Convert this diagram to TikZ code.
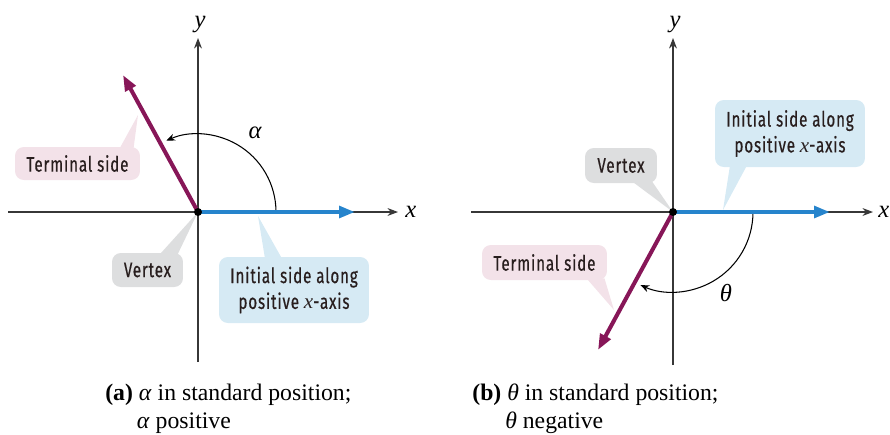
\documentclass[tikz,border=0pt]{standalone}
\usepackage{fontspec}
\setmainfont{Liberation Serif}
\newfontfamily\calloutfont[FakeStretch=0.72,LetterSpace=4.0,FakeBold=0.5]{Fira Sans}
\usetikzlibrary{arrows.meta,positioning,calc}
\definecolor{termpurple}{RGB}{135,22,88}
\definecolor{initblue}{RGB}{38,132,204}
\definecolor{termpink}{RGB}{243,226,233}
\definecolor{vertexgray}{RGB}{221,222,223}
\definecolor{initcyan}{RGB}{214,234,244}
\definecolor{axisgray}{RGB}{55,55,55}
\definecolor{calltext}{RGB}{40,30,30}
\newcommand{\vx}{{\rmfamily\itshape x}}

\begin{document}
\begin{tikzpicture}[
    x=0.02cm, y=-0.02cm,
    axis/.style={draw=axisgray, line width=0.6pt,
                 -{Stealth[length=6pt,width=4.5pt]}},
    side/.style={line width=2.3pt, -{Triangle[length=9pt,width=6.5pt]}},
    angarc/.style={line width=0.6pt, -{Stealth[length=5pt,width=4pt]}},
    callbox/.style={rectangle, rounded corners=5pt, fill=#1, inner sep=0pt,
                    align=center, text=calltext,
                    font=\calloutfont\fontsize{12}{14.7}\selectfont},
    axlabel/.style={inner sep=0pt, font=\fontsize{14}{16}\selectfont\itshape},
    caption/.style={anchor=north west, align=left, inner sep=0pt,
                    font=\fontsize{13.5}{15.6}\selectfont}
]
\useasboundingbox (0,0) rectangle (890,434);

% (a) alpha positive
\coordinate (O1) at (198,212);
\coordinate (xa1) at (8,212);
\coordinate (xb1) at (398,212);
\coordinate (ya1) at (198,362);
\coordinate (yb1) at (198,38);
\coordinate (term1) at (123,75);
\coordinate (init1) at (355,212);
\coordinate (arc1) at (276,212);

\node[callbox=termpink, minimum width=2.5cm, minimum height=0.66cm]
      (tbox1) at (77.5,163.5) {Terminal side};
\node[callbox=vertexgray, minimum width=1.42cm, minimum height=0.68cm]
      (vbox1) at (147.5,270) {Vertex};
\node[callbox=initcyan, minimum width=3cm, minimum height=1.32cm]
      (ibox1) at (294,290) {Initial side along\\positive \vx-axis};

\fill[termpink] ($(tbox1.north)+(42,2)$) -- (138,115) -- ($(tbox1.north)+(56,2)$) -- cycle;
\fill[vertexgray] ($(vbox1.north)+(12,2)$) -- (O1) -- ($(vbox1.north)+(30,2)$) -- cycle;
\fill[initcyan] ($(ibox1.north)+(-29,2)$) -- (258,216) -- ($(ibox1.north)+(-12,2)$) -- cycle;

\draw[axis] (xa1) -- (xb1);
\draw[axis] (ya1) -- (yb1);
\node[axlabel, anchor=west] (xlab1) at (405,212) {x};
\node[axlabel, anchor=south] (ylab1) at (200,33) {y};
\draw[angarc] (arc1) arc[start angle=0, end angle=-114, radius=78];
\node[axlabel] (alpha) at (255,133) {α};
\draw[side, initblue] (O1) -- (init1);
\draw[side, termpurple] (O1) -- (term1);
\fill (O1) circle[radius=4];

\node[caption] (cap1) at (105,384)
      {\textbf{(a)} \textit{α} in standard position;\\
       \hphantom{\textbf{(a)}}\,\textit{α} positive};

% (b) theta negative
\coordinate (O2) at (673,212);
\coordinate (xa2) at (471,212);
\coordinate (xb2) at (873,212);
\coordinate (ya2) at (673,365);
\coordinate (yb2) at (673,38);
\coordinate (term2) at (598,350);
\coordinate (init2) at (830,212);
\coordinate (arc2) at (753,212);

\node[callbox=vertexgray, minimum width=1.44cm, minimum height=0.7cm]
      (vbox2) at (621,165.5) {Vertex};
\node[callbox=initcyan, minimum width=3cm, minimum height=1.34cm]
      (ibox2) at (790,133.5) {Initial side along\\positive \vx-axis};
\node[callbox=termpink, minimum width=2.5cm, minimum height=0.7cm]
      (tbox2) at (544.5,262.5) {Terminal side};

\fill[vertexgray] ($(vbox2.south)+(11,-2)$) -- (O2) -- ($(vbox2.south)+(31,-2)$) -- cycle;
\fill[initcyan] ($(ibox2.south)+(-60,-2)$) -- (723,210) -- ($(ibox2.south)+(-43,-2)$) -- cycle;
\fill[termpink] ($(tbox2.south)+(42,-2)$) -- (614,310) -- ($(tbox2.south)+(60,-2)$) -- cycle;

\draw[axis] (xa2) -- (xb2);
\draw[axis] (ya2) -- (yb2);
\node[axlabel, anchor=west] (xlab2) at (878,212) {x};
\node[axlabel, anchor=south] (ylab2) at (675,33) {y};
\draw[angarc] (arc2) arc[start angle=0, end angle=114, radius=80];
\node[axlabel] (theta) at (726,293) {θ};
\draw[side, initblue] (O2) -- (init2);
\draw[side, termpurple] (O2) -- (term2);
\fill (O2) circle[radius=4];

\node[caption] (cap2) at (472,384)
      {\textbf{(b)} \textit{θ} in standard position;\\
       \hphantom{\textbf{(b)}}\,\textit{θ} negative};

\end{tikzpicture}
\end{document}
